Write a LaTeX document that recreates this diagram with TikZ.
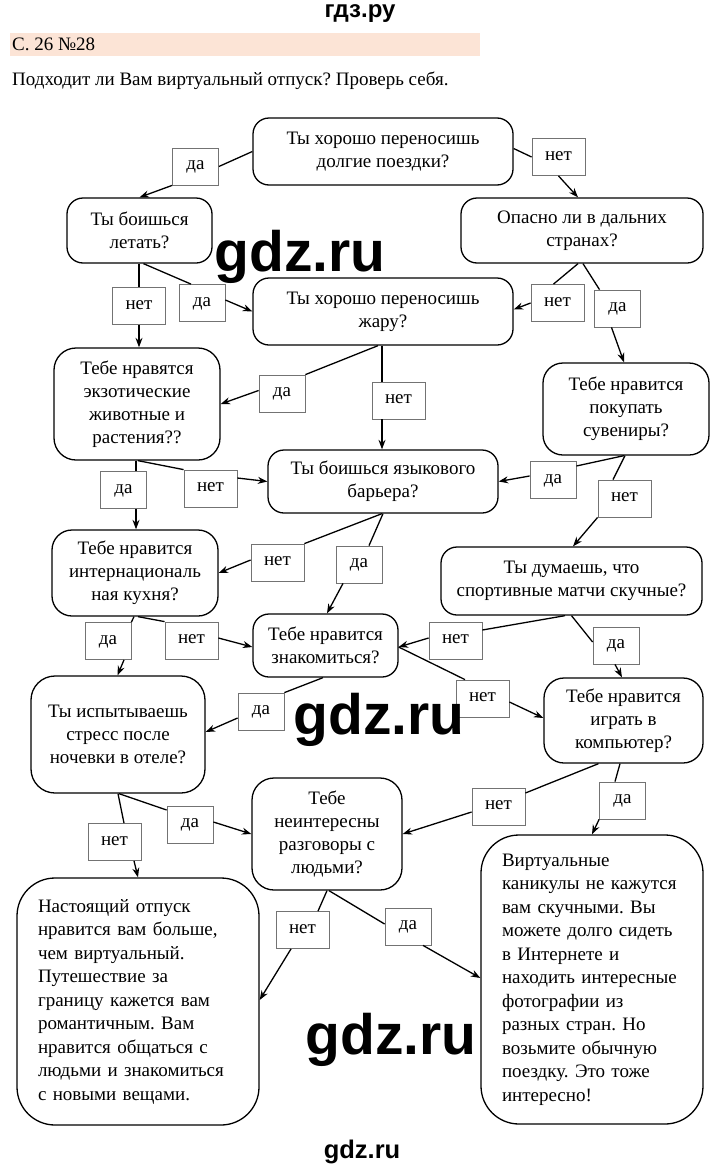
\documentclass[tikz,border=0pt]{standalone}
\usepackage{fontspec}
\setmainfont{Liberation Serif}
\newfontfamily\wmfont{Liberation Sans}
\usetikzlibrary{arrows.meta,calc}
\definecolor{peach}{HTML}{FCE4D6}
\newcommand\qsize{\fontsize{19}{23}\selectfont}
\newcommand\rsize{\fontsize{19}{23.5}\selectfont}
\frenchspacing
\begin{document}
\begin{tikzpicture}[x=1pt,y=-1pt,
 qbox/.style={draw,line width=1.3pt,rounded corners=16pt,align=center,inner sep=0pt,font=\qsize},
 rbox/.style={draw,line width=1.3pt,rounded corners=38pt,align=left,inner xsep=21pt,inner ysep=0pt,font=\rsize},
 lbl/.style={draw=black!55,line width=0.8pt,fill=white,inner sep=0pt,minimum height=37pt,text height=9pt,text depth=3pt,font=\qsize},
 da/.style={lbl,minimum width=46pt},
 net/.style={lbl,minimum width=53pt},
 link/.style={line width=1.3pt},
 arr/.style={line width=1.3pt,-{Stealth[length=9.5pt,width=7pt]}},
 wm/.style={font=\wmfont\bfseries\fontsize{57}{57}\selectfont,inner sep=0pt},
 plain/.style={inner sep=0pt,font=\qsize},
]
\useasboundingbox (0,0) rectangle (720,1170);
\fill[white] (0,0) rectangle (720,1170);

% header
\node[font=\wmfont\bfseries\fontsize{24}{24}\selectfont,inner sep=0pt] (hdr) at (360,13.5) {гдз.ру};
\node[fill=peach,minimum width=470pt,minimum height=23pt,anchor=north west,inner sep=0pt] (bar) at (10,33) {};
\node[plain,anchor=base west] (num) at (12,50) {С. 26 №28};
\node[plain,anchor=base west] (title) at (12,85) {Подходит ли Вам виртуальный отпуск? Проверь себя.};

% questions
\node[qbox,minimum width=260pt,minimum height=67pt] (q1) at (383,151.5) {Ты хорошо переносишь\\долгие поездки?};
\node[qbox,minimum width=145pt,minimum height=65pt] (q2) at (139.5,230.5) {Ты боишься\\летать?};
\node[qbox,minimum width=242pt,minimum height=65pt] (q3) at (582,230.5) {Опасно ли в дальних\\странах?};
\node[qbox,minimum width=260pt,minimum height=67pt] (q4) at (383,311.5) {Ты хорошо переносишь\\жару?};
\node[qbox,minimum width=166pt,minimum height=112pt,rounded corners=22pt] (q5) at (137,404) {Тебе нравятся\\экзотические\\животные и\\растения??};
\node[qbox,minimum width=166pt,minimum height=92pt,rounded corners=20pt] (q6) at (626,409) {Тебе нравится\\покупать\\сувениры?};
\node[qbox,minimum width=230pt,minimum height=63pt] (q7) at (383,481.5) {Ты боишься языкового\\барьера?};
\node[qbox,minimum width=166pt,minimum height=86pt,rounded corners=20pt] (q8) at (135,573) {Тебе нравится\\интернациональ\\ная кухня?};
\node[qbox,minimum width=261pt,minimum height=68pt] (q9) at (571.5,581) {Ты думаешь, что\\спортивные матчи скучные?};
\node[qbox,minimum width=145pt,minimum height=63pt] (q10) at (325.5,645.5) {Тебе нравится\\знакомиться?};
\node[qbox,minimum width=174pt,minimum height=117pt,rounded corners=24pt] (q11) at (118,734.5) {Ты испытываешь\\стресс после\\ночевки в отеле?};
\node[qbox,minimum width=159pt,minimum height=85pt,rounded corners=20pt] (q12) at (623.5,720.5) {Тебе нравится\\играть в\\компьютер?};
\node[qbox,minimum width=150pt,minimum height=112pt,rounded corners=22pt] (q13) at (327,834) {Тебе\\неинтересны\\разговоры с\\людьми?};

% results
\node[rbox,minimum width=242pt,minimum height=247pt,text width=200pt] (r1) at (138,1001.5) {Настоящий отпуск\\нравится вам больше,\\чем виртуальный.\\Путешествие за\\границу кажется вам\\романтичным. Вам\\нравится общаться с\\людьми и знакомиться\\с новыми вещами.};
\node[rbox,minimum width=222pt,minimum height=289pt,text width=180pt] (r2) at (592,979.5) {Виртуальные\\каникулы не кажутся\\вам скучными. Вы\\можете долго сидеть\\в Интернете и\\находить интересные\\фотографии из\\разных стран. Но\\возьмите обычную\\поездку. Это тоже\\интересно!};

% labels
\node[da] (l1) at (195.5,166.5) {да};
\node[net] (l2) at (558.5,157) {нет};
\node[net] (l3) at (139,306) {нет};
\node[da] (l4) at (202,303) {да};
\node[net] (l5) at (557.5,303) {нет};
\node[da] (l6) at (617.5,308.5) {да};
\node[da] (l7) at (282,393.5) {да};
\node[net] (l8) at (398.5,400.5) {нет};
\node[da] (l9) at (553,480) {да};
\node[net] (l10) at (624.5,498.5) {нет};
\node[da] (l11) at (123.5,490) {да};
\node[net] (l12) at (210.5,488.5) {нет};
\node[net] (l13) at (277.5,562.5) {нет};
\node[da] (l14) at (359,564.5) {да};
\node[da] (l15) at (108,641) {да};
\node[net] (l16) at (191.5,640.5) {нет};
\node[net] (l17) at (455.5,640.5) {нет};
\node[da] (l18) at (616,645.5) {да};
\node[net] (l19) at (482.5,698.5) {нет};
\node[da] (l20) at (261,711.5) {да};
\node[net] (l21) at (114.5,842) {нет};
\node[da] (l22) at (190,824.5) {да};
\node[net] (l23) at (498.5,806.5) {нет};
\node[da] (l24) at (622.5,800.5) {да};
\node[net] (l25) at (302.5,930) {нет};
\node[da] (l26) at (408,926.5) {да};

% connectors
\draw[link] (q1.west) -- (l1.east);
\draw[arr] (l1.south west) -- (q2.north);

\draw[link] ($(q1.east)+(0,-3)$) -- (l2.west);
\draw[arr] (l2.south) -- ($(q3.north)+(-4,0)$);

\draw[link] (l3.north |- q2.south) -- (l3.north);
\draw[arr] (l3.south) -- (l3.south |- q5.north);

\draw[link] ($(q2.south)+(4,0)$) -- ($(l4.north)+(-11,0)$);
\draw[arr] ($(l4.east)+(0,-3)$) -- (q4.west);

\draw[link] ($(q3.south)+(-4,0)$) -- ($(l5.north)+(-4,0)$);
\draw[arr] (l5.west) -- ($(q4.east)+(0,-2)$);

\draw[link] ($(q3.south)+(1,0)$) -- ($(l6.north)+(-18,0)$);
\draw[arr] ($(l6.south)+(-6,0)$) -- ($(q6.north)+(-2,0)$);

\draw[link] ($(q4.south)+(-5,0)$) -- (l7.north east);
\draw[arr] ($(l7.west)+(0,-3)$) -- (q5.east);

\coordinate (c8) at ($(q4.south)+(-1,0)$);
\draw[link] (c8) -- (c8 |- l8.north);
\draw[arr] (c8 |- l8.south) -- (c8 |- q7.north);

\draw[link] ($(q6.south)+(-2,0)$) -- ($(l9.east)+(0,-14)$);
\draw[arr] ($(l9.west)+(0,-4)$) -- (q7.east);

\draw[link] ($(q6.south)+(-1,0)$) -- ($(l10.north)+(-11.5,0)$);
\draw[arr] (l10.south west) -- ($(q9.north)+(1.5,0)$);

\coordinate (c11) at ($(q5.south)+(-1,0)$);
\draw[link] (c11) -- (c11 |- l11.north);
\draw[arr] (c11 |- l11.south) -- (c11 |- q8.north);

\draw[link] ($(q5.south)+(1,0)$) -- (l12.north west);
\draw[arr] ($(l12.east)+(0,-10.5)$) -- (q7.west);

\draw[link] ($(q7.south)+(-1,0)$) -- (l13.north east);
\draw[arr] ($(l13.west)+(0,-2.5)$) -- (q8.east);

\draw[link] (q7.south) -- ($(l14.north)+(10,0)$);
\draw[arr] ($(l14.south)+(-16,0)$) -- ($(q10.north)+(1.5,0)$);

\draw[link] ($(q8.south)+(-1,0)$) -- (l15.north east);
\draw[arr] ($(l15.south)+(16,0)$) -- ($(q11.north)+(-0.5,0)$);

\draw[link] ($(q8.south)+(3,0)$) -- (l16.north west);
\draw[arr] ($(l16.east)+(0,-2.5)$) -- ($(q10.west)+(0,1.5)$);

\draw[link] ($(q9.south)+(-6.5,0)$) -- ($(l17.east)+(0,-10.5)$);
\draw[arr] ($(l17.west)+(0,-2.5)$) -- ($(q10.east)+(0,1.5)$);

\draw[link] (q9.south) -- ($(l18.west)+(0,-3.5)$);
\draw[arr] ($(l18.south)+(-1,0)$) -- ($(q12.north)+(-1.5,0)$);

\draw[link] ($(q10.east)+(0,1.5)$) -- ($(l19.north)+(-17.5,0)$);
\draw[arr] ($(l19.east)+(0,3.5)$) -- ($(q12.west)+(0,-2.5)$);

\draw[link] ($(q10.south)+(-2.5,0)$) -- (l20.north east);
\draw[arr] ($(l20.west)+(0,6.5)$) -- ($(q11.east)+(0,-2.5)$);

\draw[link] (q11.south) -- ($(l21.north)+(9.5,0)$);
\draw[arr] ($(l21.south)+(19.5,0)$) -- (r1.north);

\draw[link] ($(q11.south)+(1,0)$) -- ($(l22.west)+(0,-14.5)$);
\draw[arr] ($(l22.east)+(0,-2.5)$) -- (q13.west);

\draw[link] ($(q12.south)+(-25,0)$) -- ($(l23.east)+(0,-13.5)$);
\draw[arr] ($(l23.west)+(0,5.5)$) -- (q13.east);

\draw[link] ($(q12.south)+(-3.5,0)$) -- ($(l24.north)+(-7.5,0)$);
\draw[arr] (l24.south west) -- (r2.north);

\draw[link] (q13.south) -- ($(l25.north)+(15.5,0)$);
\draw[arr] ($(l25.south)+(-11.5,0)$) -- ($(r1.east)+(0,-1.5)$);

\draw[link] ($(q13.south)+(2,0)$) -- ($(l26.west)+(0,-2.5)$);
\draw[arr] ($(l26.south)+(15,0)$) -- ($(r2.west)+(0,-1.5)$);

% watermarks
\node[wm] (w1) at (300,257) {gdz.ru};
\node[wm] (w2) at (379,720) {gdz.ru};
\node[wm] (w3) at (391,1040) {gdz.ru};
\node[font=\wmfont\bfseries\fontsize{25.5}{25.5}\selectfont,inner sep=0pt] (ftr) at (362,1152) {gdz.ru};
\end{tikzpicture}
\end{document}
